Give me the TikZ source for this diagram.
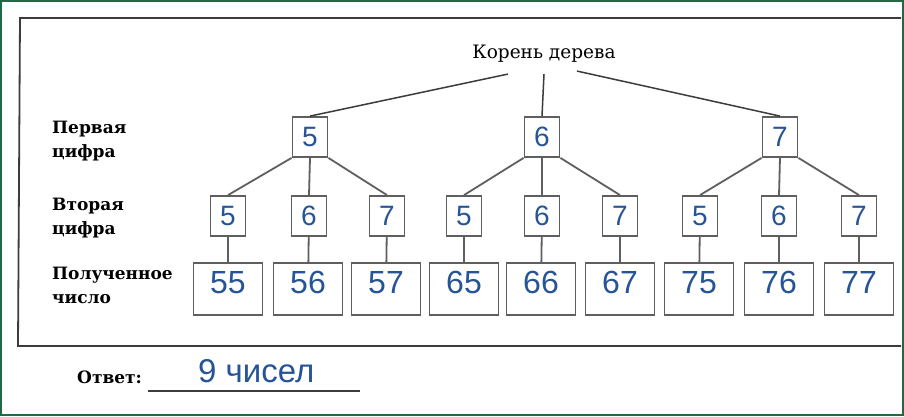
\documentclass[tikz,border=0pt]{standalone}
\usepackage{fontspec}
\setmainfont{DejaVu Serif}
\newfontfamily\digitfont{Liberation Sans}
\usetikzlibrary{positioning}
\definecolor{inkblue}{RGB}{38,84,150}
\definecolor{boxgray}{RGB}{95,95,95}
\definecolor{framegray}{RGB}{60,60,60}
\definecolor{framegreen}{RGB}{30,105,70}

\begin{document}
\begin{tikzpicture}[x=1pt,y=-1pt,
    digit/.style={draw=boxgray, line width=1.8pt, fill=white, inner sep=0pt,
        minimum width=35pt, minimum height=40pt, text=inkblue,
        font=\digitfont\fontsize{28}{28}\selectfont},
    result/.style={draw=boxgray, line width=1.8pt, fill=white, inner sep=0pt,
        minimum width=69pt, minimum height=52pt, text height=20pt, text depth=11pt,
        text=inkblue, font=\digitfont\fontsize{32}{32}\selectfont},
    branch/.style={draw=boxgray, line width=1.8pt},
    rootline/.style={draw=framegray, line width=1.5pt},
    rowlabel/.style={anchor=west, align=left, inner sep=0pt,
        font=\bfseries\fontsize{17}{24}\selectfont}]
    \useasboundingbox (0,0) rectangle (904,416);
    \fill[white] (0,0) rectangle (904,416);
    \draw[framegreen, line width=2.4pt] (1.2,1.2) rectangle (902.8,414.8);
    % frame
    \draw[framegray, line width=1.8pt] (901,18) -- (20,18) -- (18,346) -- (901,346);

    % row labels
    \node[rowlabel] (l1) at (52,141) {Первая\\цифра};
    \node[rowlabel] (l2) at (52,218) {Вторая\\цифра};
    \node[rowlabel] (l3) at (52,285) {Полученное\\число};

    % root and first digit
    \node[anchor=base, inner sep=0pt, inner ysep=12pt, font=\fontsize{18.5}{18.5}\selectfont] (0) at (544,58) {Корень дерева};
    \node[digit] (5) at (310,137) {5};
    \node[digit] (6) at (542,137) {6};
    \node[digit] (7) at (780,137) {7};

    % second digit
    \node[digit] (55) at (228,216) {5};
    \node[digit] (56) at (309,216) {6};
    \node[digit] (57) at (387,216) {7};
    \node[digit] (65) at (464,216) {5};
    \node[digit] (66) at (542,216) {6};
    \node[digit] (67) at (620,216) {7};
    \node[digit] (75) at (700,216) {5};
    \node[digit] (76) at (779,216) {6};
    \node[digit] (77) at (859,216) {7};

    % numbers
    \node[result] (r55) at (228,289) {55};
    \node[result] (r56) at (308,289) {56};
    \node[result] (r57) at (386,289) {57};
    \node[result] (r65) at (464,289) {65};
    \node[result] (r66) at (541,289) {66};
    \node[result] (r67) at (620,289) {67};
    \node[result] (r75) at (699,289) {75};
    \node[result] (r76) at (779,289) {76};
    \node[result] (r77) at (859,289) {77};

    \draw[rootline] ([xshift=-36pt]0.south) -- (5.north);
    \draw[rootline] (0.south) -- (6.north);
    \draw[rootline] ([xshift=33pt,yshift=3pt]0.south) -- (7.north);

    \draw[branch] (5.south west) -- (55.north); \draw[branch] (5.south) -- (56.north); \draw[branch] (5.south east) -- (57.north);
    \draw[branch] (6.south west) -- (65.north); \draw[branch] (6.south) -- (66.north); \draw[branch] (6.south east) -- (67.north);
    \draw[branch] (7.south west) -- (75.north); \draw[branch] (7.south) -- (76.north); \draw[branch] (7.south east) -- (77.north);

    \draw[branch] (55) -- (r55); \draw[branch] (56) -- (r56); \draw[branch] (57) -- (r57);
    \draw[branch] (65) -- (r65); \draw[branch] (66) -- (r66); \draw[branch] (67) -- (r67);
    \draw[branch] (75) -- (r75); \draw[branch] (76) -- (r76); \draw[branch] (77) -- (r77);

    % answer
    \node[anchor=base west, inner sep=0pt, font=\bfseries\fontsize{17}{17}\selectfont] (ans) at (77,383) {Ответ:};
    \node[anchor=base west, inner sep=0pt, text=inkblue, font=\digitfont\fontsize{33}{33}\selectfont] (count) at (198,382) {9 чисел};
    \draw[framegray, line width=1.2pt] (148,391) -- (360,391);
\end{tikzpicture}
\end{document}
